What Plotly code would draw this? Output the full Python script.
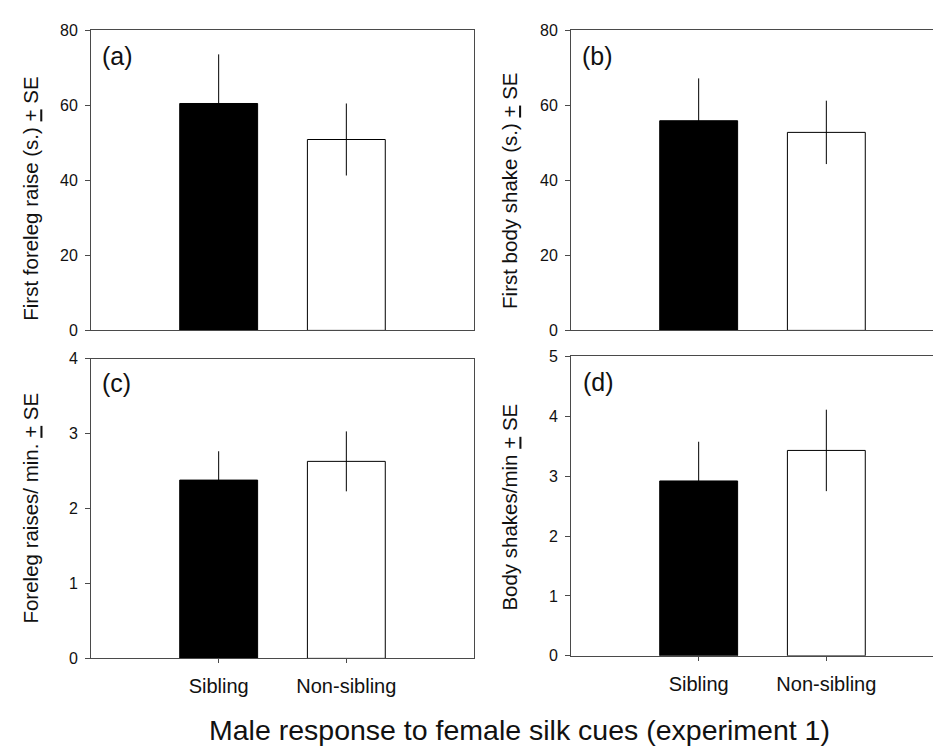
import plotly.graph_objects as go

# ---- data ----
categories = ["Sibling", "Non-sibling"]
foreleg_latency = [60.5, 50.9]
foreleg_latency_se = [13.1, 9.6]
shake_latency = [55.9, 52.8]
shake_latency_se = [11.3, 8.45]
foreleg_rate = [2.38, 2.63]
foreleg_rate_se = [0.385, 0.40]
shake_rate = [2.92, 3.43]
shake_rate_se = [0.655, 0.68]

panel_labels = ["(a)", "(b)", "(c)", "(d)"]
pm = '<span style="text-decoration:underline">+</span>'
y_titles = [
    f"First foreleg raise (s.) {pm} SE",
    f"First body shake (s.) {pm} SE",
    f"Foreleg raises/ min. {pm} SE",
    f"Body shakes/min {pm} SE",
]
main_title = "Male response to female silk cues (experiment 1)"

W, H = 941, 749
FONT = "Arial, Liberation Sans, sans-serif"
AX = "#4a4a4a"
bar_colors = ["black", "white"]

fig = go.Figure()

panels = [
    dict(vals=foreleg_latency, se=foreleg_latency_se, xd=[83 / W, 466 / W], yd=[1 - 321.7 / H, 1 - 14.7 / H],
         yr=[0, 80], dt=20, xr=[-1, 2], mirror_y=True, bottom=False),
    dict(vals=shake_latency, se=shake_latency_se, xd=[563 / W, 1.0], yd=[1 - 321.7 / H, 1 - 14.7 / H],
         yr=[0, 80], dt=20, xr=[-1, (941 - 563) / 127.67 - 1], mirror_y=False, bottom=False),
    dict(vals=foreleg_rate, se=foreleg_rate_se, xd=[83 / W, 466 / W], yd=[1 - 657.3 / H, 1 - 350.7 / H],
         yr=[0, 4], dt=1, xr=[-1, 2], mirror_y=True, bottom=True),
    dict(vals=shake_rate, se=shake_rate_se, xd=[563 / W, 1.0], yd=[1 - 654.7 / H, 1 - 348.3 / H],
         yr=[0, 5], dt=1, xr=[-1, (941 - 563) / 127.67 - 1], mirror_y=False, bottom=True),
]

# y title centres (px) and panel label positions (px)
ytitle_pos = [(23, 187), (502, 179), (23, 504), (502, 502)]
label_pos = [(92, 41), (572, 41), (92, 376), (573, 375)]

for i, p in enumerate(panels, start=1):
    xa = "x" if i == 1 else f"x{i}"
    ya = "y" if i == 1 else f"y{i}"
    fig.add_trace(go.Bar(
        x=categories, y=p["vals"], xaxis=xa, yaxis=ya,
        width=0.61,
        marker=dict(color=bar_colors, line=dict(color="black", width=1)),
        error_y=dict(type="data", array=p["se"], visible=True, color="black", thickness=1, width=0),
        showlegend=False, hoverinfo="skip",
    ))
    xkey = "xaxis" if i == 1 else f"xaxis{i}"
    ykey = "yaxis" if i == 1 else f"yaxis{i}"
    fig.update_layout(**{
        xkey: dict(
            domain=p["xd"], anchor=ya, range=p["xr"], type="category",
            showline=True, linecolor=AX, linewidth=1, mirror=True,
            showgrid=False, zeroline=False,
            ticks="outside" if p["bottom"] else "", ticklen=4, tickcolor=AX,
            showticklabels=p["bottom"],
            tickfont=dict(family=FONT, size=20, color="#111"),
            ticklabelstandoff=6,
        ),
        ykey: dict(
            domain=p["yd"], anchor=xa, range=p["yr"], dtick=p["dt"], tick0=0,
            showline=True, linecolor=AX, linewidth=1, mirror=p["mirror_y"],
            showgrid=False, zeroline=False,
            ticks="outside", ticklen=5, tickcolor=AX,
            tickfont=dict(family=FONT, size=16, color="#111"),
            ticklabelstandoff=4,
        ),
    })

annotations = []
for (px, py), t in zip(ytitle_pos, y_titles):
    annotations.append(dict(
        text=t, x=px / W, y=1 - py / H, xref="paper", yref="paper",
        xanchor="center", yanchor="middle", textangle=-90, showarrow=False,
        font=dict(family=FONT, size=20.5, color="#111"),
    ))
for (px, py), t in zip(label_pos, panel_labels):
    annotations.append(dict(
        text=t, x=px / W, y=1 - py / H, xref="paper", yref="paper",
        xanchor="left", yanchor="middle", showarrow=False,
        font=dict(family=FONT, size=25, color="#111"),
    ))
annotations.append(dict(
    text=main_title, x=512 / W, y=1 - 731 / H, xref="paper", yref="paper",
    xanchor="center", yanchor="middle", showarrow=False,
    font=dict(family=FONT, size=28.5, color="#111"),
))

fig.update_layout(
    width=W, height=H,
    margin=dict(l=0, r=0, t=0, b=0),
    paper_bgcolor="white", plot_bgcolor="white",
    bargap=0.3,
    annotations=annotations,
)

fig.write_html("out.html", config={"displayModeBar": False})
